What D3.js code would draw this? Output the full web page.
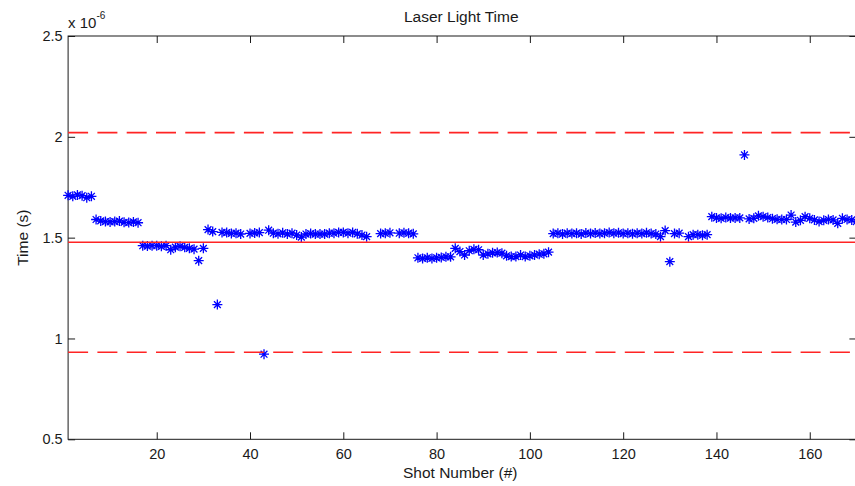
<!DOCTYPE html>
<html>
<head>
<meta charset="utf-8">
<script src="https://cdn.jsdelivr.net/npm/d3@7"></script>
<style>
  html, body { margin: 0; padding: 0; background: #fff; }
  svg { display: block; }
  text { font-family: "Liberation Sans", Arial, Helvetica, sans-serif; fill: #1a1a1a; }
</style>
</head>
<body>
<svg id="chart" width="855" height="486"></svg>
<script>
// Laser light time per shot, in units of 1e-6 s (shot number = position + 1).
// null marks shots with no recorded time.
const laserTimes = [
  1.710, 1.705, 1.712, 1.708, 1.698, 1.705,                                     // 1-6
  1.590, 1.583, 1.580, 1.578, 1.580, 1.582, 1.576, 1.575, 1.578, 1.574,         // 7-16
  1.460, 1.458, 1.460, 1.460, 1.457, 1.460,                                     // 17-22
  1.440, 1.453, 1.457, 1.452, 1.447, 1.443, 1.386, 1.447,                       // 23-30
  1.540, 1.530, 1.168, 1.526, 1.525, 1.521, 1.522, 1.518, null, 1.521,          // 31-40
  1.523, 1.525, 0.922, 1.537, 1.522, 1.519, 1.524, 1.518, 1.522, 1.513,         // 41-50
  1.503, 1.518, 1.520, 1.518, 1.518, 1.518, 1.522, 1.522, 1.526, 1.526,         // 51-60
  1.522, 1.526, 1.519, 1.513, 1.505, null, null, 1.520, 1.522, 1.524,           // 61-70
  null, 1.522, 1.524, 1.522, 1.519, 1.400, 1.397, 1.400, 1.397, 1.400,          // 71-80
  1.402, 1.405, 1.405, 1.447, 1.431, 1.414, 1.435, 1.442, 1.440, 1.414,         // 81-90
  1.420, 1.425, 1.426, 1.423, 1.410, 1.406, 1.406, 1.414, 1.406, 1.410,         // 91-100
  1.414, 1.418, 1.420, 1.428, 1.520, 1.522, 1.518, 1.522, 1.520, 1.522,         // 101-110
  1.518, 1.523, 1.520, 1.523, 1.520, 1.522, 1.525, 1.522, 1.524, 1.520,         // 111-120
  1.522, 1.519, 1.522, 1.520, 1.524, 1.520, 1.518, 1.505, 1.535, 1.381,         // 121-130
  1.520, 1.522, null, 1.505, 1.515, 1.515, 1.512, 1.515, 1.604, 1.598,          // 131-140
  1.596, 1.600, 1.597, 1.598, 1.598, 1.910, 1.593, 1.596, 1.608, 1.604,         // 141-150
  1.600, 1.594, 1.591, 1.590, 1.590, 1.612, 1.577, 1.586, 1.604, 1.596,         // 151-160
  1.588, 1.580, 1.586, 1.590, 1.588, 1.571, 1.596, 1.590, 1.588, 1.580          // 161-170
];

// Reference levels (same units): mean and upper / lower limits
const meanLevel = [1.477];
const limitLevels = [2.021, 0.932];

const xDomain = [1, 170];
const yDomain = [0.5, 2.5];
const xTicks = [20, 40, 60, 80, 100, 120, 140, 160];
const yTicks = [0.5, 1, 1.5, 2, 2.5];

const titleText = "Laser Light Time";
const xLabelText = "Shot Number (#)";
const yLabelText = "Time (s)";

// ---- layout ----
const plot = { left: 68.1, right: 856.4, top: 36, bottom: 439.3 };

const svg = d3.select("#chart");

const x = d3.scaleLinear().domain(xDomain).range([plot.left, plot.right]);
const y = d3.scaleLinear().domain(yDomain).range([plot.bottom, plot.top]);

const fmt = d3.format("~g");

// axes with inward ticks on all four sides
const gx = svg.append("g")
  .attr("transform", `translate(0,${plot.bottom})`)
  .call(d3.axisBottom(x).tickValues(xTicks).tickFormat(fmt).tickSizeInner(-7).tickSizeOuter(0).tickPadding(9.2));
const gxTop = svg.append("g")
  .attr("transform", `translate(0,${plot.top})`)
  .call(d3.axisTop(x).tickValues(xTicks).tickFormat("").tickSizeInner(-7).tickSizeOuter(0));
const gy = svg.append("g")
  .attr("transform", `translate(${plot.left},0)`)
  .call(d3.axisLeft(y).tickValues(yTicks).tickFormat(fmt).tickSizeInner(-7).tickSizeOuter(0).tickPadding(5.5));
const gyRight = svg.append("g")
  .attr("transform", `translate(${plot.right},0)`)
  .call(d3.axisRight(y).tickValues(yTicks).tickFormat("").tickSizeInner(-7).tickSizeOuter(0));

[gx, gxTop, gy, gyRight].forEach(g => {
  g.select(".domain").remove();
  g.selectAll(".tick line").attr("stroke", "#1a1a1a").attr("stroke-width", 1);
  g.selectAll(".tick text").attr("font-size", 14.5).attr("fill", "#1a1a1a")
    .attr("font-family", '"Liberation Sans", Arial, sans-serif');
});

// axes box
svg.append("rect")
  .attr("x", plot.left).attr("y", plot.top)
  .attr("width", plot.right - plot.left).attr("height", plot.bottom - plot.top)
  .attr("fill", "none").attr("stroke", "#1a1a1a").attr("stroke-width", 1);

// asterisk markers for every recorded shot
const shots = laserTimes
  .map((t, i) => ({ shot: i + 1, t }))
  .filter(d => d.t != null);

const asterisk = "M-5,0H5M0,-5V5M-3.4,-3.4L3.4,3.4M-3.4,3.4L3.4,-3.4";

svg.append("g")
  .selectAll("path")
  .data(shots)
  .join("path")
  .attr("d", asterisk)
  .attr("transform", d => `translate(${x(d.shot)},${y(d.t)})`)
  .attr("fill", "none")
  .attr("stroke", "#0000ff")
  .attr("stroke-width", 1.3);

// mean line (solid) and limits (dashed)
svg.append("g")
  .selectAll("line")
  .data(meanLevel)
  .join("line")
  .attr("x1", x(xDomain[0])).attr("x2", x(xDomain[1]))
  .attr("y1", d => y(d)).attr("y2", d => y(d))
  .attr("stroke", "#ff2424").attr("stroke-width", 1.6);

svg.append("g")
  .selectAll("line")
  .data(limitLevels)
  .join("line")
  .attr("x1", x(xDomain[0])).attr("x2", x(xDomain[1]))
  .attr("y1", d => y(d)).attr("y2", d => y(d))
  .attr("stroke", "#ff2424").attr("stroke-width", 1.6)
  .attr("stroke-dasharray", "20,9.3");

// exponent note above the y axis
const expo = svg.append("text")
  .attr("x", plot.left).attr("y", 28)
  .attr("font-size", 15);
expo.append("tspan").text("x 10");
expo.append("tspan").attr("font-size", 10).attr("dy", -9).text("-6");

// title and axis labels
svg.append("text")
  .attr("x", (plot.left + plot.right) / 2 - 1).attr("y", 22)
  .attr("text-anchor", "middle").attr("font-size", 15.5)
  .text(titleText);

svg.append("text")
  .attr("x", (plot.left + plot.right) / 2 - 2).attr("y", 478)
  .attr("text-anchor", "middle").attr("font-size", 15.5)
  .text(xLabelText);

svg.append("text")
  .attr("transform", `translate(28,${(plot.top + plot.bottom) / 2}) rotate(-90)`)
  .attr("text-anchor", "middle").attr("font-size", 15.5)
  .text(yLabelText);
</script>
</body>
</html>
